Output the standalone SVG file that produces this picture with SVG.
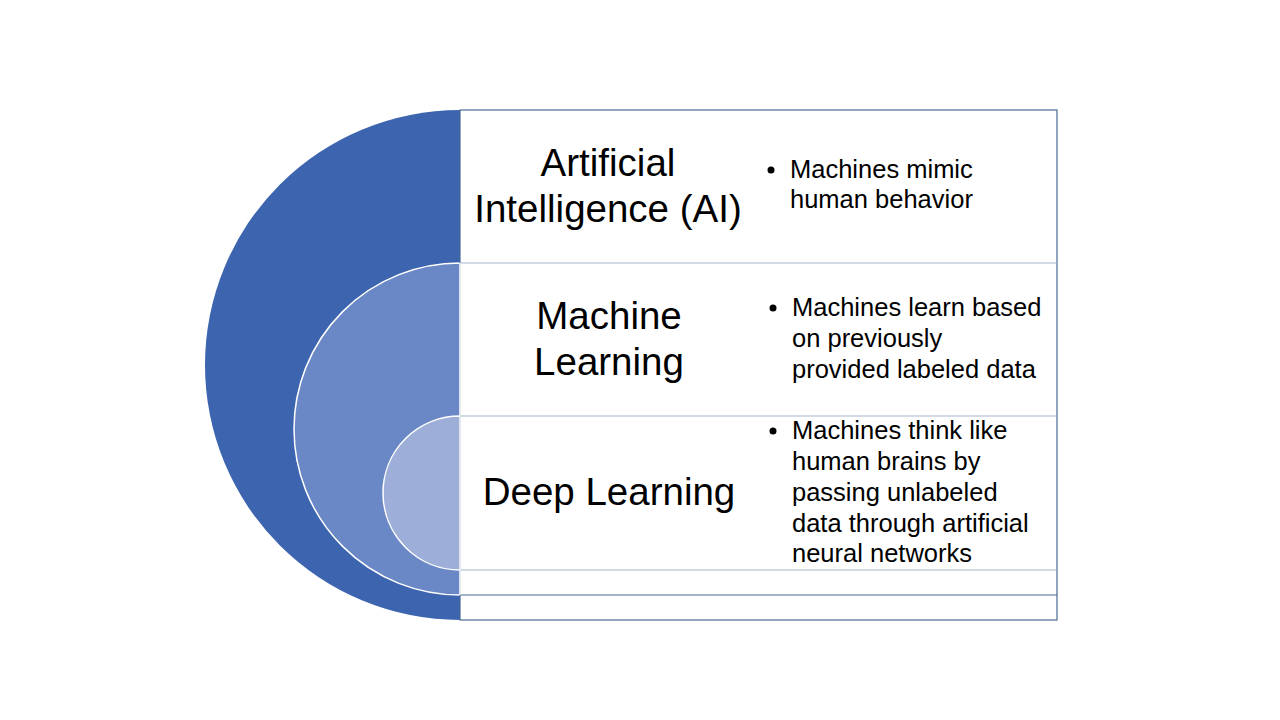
<svg xmlns="http://www.w3.org/2000/svg" width="1280" height="720" viewBox="0 0 1280 720">
<style>
.title{font-family:"Liberation Sans",Arial,sans-serif;font-size:38.5px;fill:#000;text-anchor:middle}
.body{font-family:"Liberation Sans",Arial,sans-serif;font-size:25.5px;fill:#000}
.sep{stroke:#A7B5CB;stroke-width:1.2;fill:none}
.arc{stroke:#FFFFFF;stroke-width:1.5}
</style>
<rect width="1280" height="720" fill="#FFFFFF"/>
<g id="arcs">
<path d="M460,110 A255,255 0 0 0 460,620 Z" fill="#3C64AF"/>
<path class="arc" d="M460,263 A166,166 0 0 0 460,595 Z" fill="#6A88C6"/>
<path class="arc" d="M460,416 A77,77 0 0 0 460,570 Z" fill="#9DAED8"/>
</g>
<g id="table">
<rect x="460" y="110" width="597" height="510" fill="#FFFFFF" stroke="#4A6A95" stroke-width="1.2"/>
<line class="sep" x1="460" y1="263" x2="1057" y2="263"/>
<line class="sep" x1="460" y1="416" x2="1057" y2="416"/>
<line class="sep" x1="460" y1="570" x2="1057" y2="570"/>
<line x1="460" y1="595" x2="1057" y2="595" stroke="#4A6A95" stroke-width="1.2"/>
<line x1="460" y1="263" x2="460" y2="595" stroke="#FFFFFF" stroke-width="1.5"/>
</g>
<g id="ai">
<text class="title" x="608" y="176">Artificial</text>
<text class="title" x="608" y="222">Intelligence (AI)</text>
<circle cx="771" cy="170" r="3.5" fill="#000"/>
<text class="body" x="790" y="178">Machines mimic</text>
<text class="body" x="790" y="208">human behavior</text>
</g>
<g id="ml">
<text class="title" x="609" y="329">Machine</text>
<text class="title" x="609" y="375">Learning</text>
<circle cx="773" cy="308" r="3.5" fill="#000"/>
<text class="body" x="792" y="316">Machines learn based</text>
<text class="body" x="792" y="347">on previously</text>
<text class="body" x="792" y="378">provided labeled data</text>
</g>
<g id="dl">
<text class="title" x="609" y="505">Deep Learning</text>
<circle cx="773" cy="431" r="3.5" fill="#000"/>
<text class="body" x="792" y="439">Machines think like</text>
<text class="body" x="792" y="470">human brains by</text>
<text class="body" x="792" y="501">passing unlabeled</text>
<text class="body" x="792" y="532">data through artificial</text>
<text class="body" x="792" y="562">neural networks</text>
</g>
</svg>
